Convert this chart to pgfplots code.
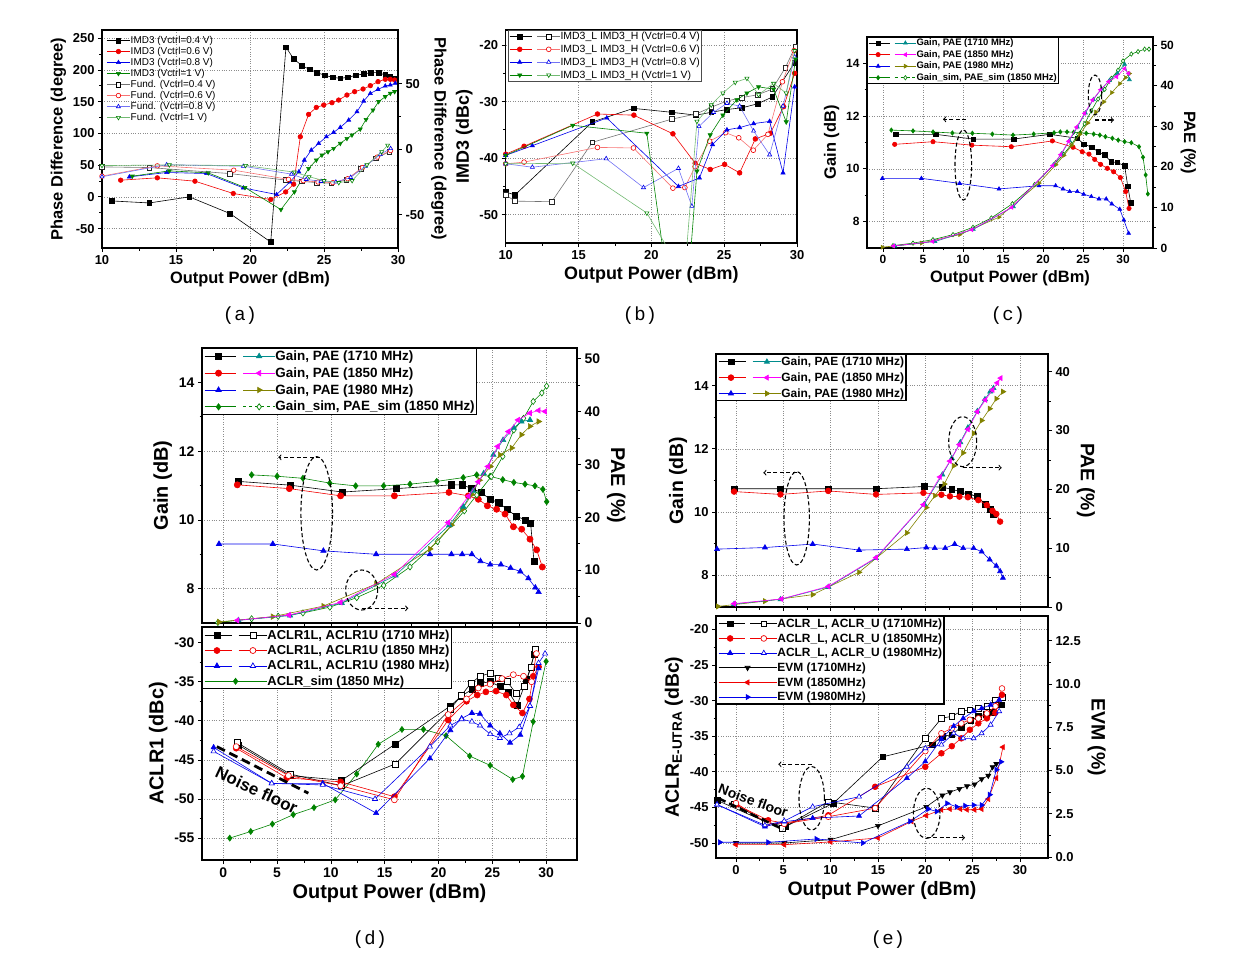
\documentclass[border=0pt]{standalone}
\usepackage{fontspec}
\setmainfont{Liberation Sans}
\newfontfamily\capfont{Liberation Mono}
\usepackage{pgfplots}
\pgfplotsset{compat=1.18}
\definecolor{cred}{RGB}{240,0,0}
\definecolor{cblue}{RGB}{0,0,235}
\definecolor{cgreen}{RGB}{0,130,0}
\definecolor{cteal}{RGB}{0,140,140}
\definecolor{cmag}{RGB}{255,0,255}
\definecolor{colive}{RGB}{130,130,0}
\newcommand{\fs}[1]{\fontsize{#1}{#1}\selectfont}
\newcommand{\LegOne}[2]{\addlegendimage{legend image code/.code={%
  \draw[#2] (0bp,0bp)--(#1bp,0bp);
  \draw[#2,solid] plot coordinates {(0.5*#1bp,0bp)};}}}
\newcommand{\LegTwo}[3]{\addlegendimage{legend image code/.code={%
  \draw[#2] (0bp,0bp)--(0.45*#1bp,0bp);
  \draw[#3] (0.55*#1bp,0bp)--(#1bp,0bp);
  \draw[#2,solid] plot coordinates {(0.2*#1bp,0bp)};
  \draw[#3,solid] plot coordinates {(0.78*#1bp,0bp)};}}}
\pgfplotsset{
  base/.style={scale only axis, anchor=north west, clip mode=individual,
    axis line style={line width=1.1bp}, tick align=outside,
    every tick/.style={black,line width=0.8bp},
    major tick length=4bp, minor tick length=2.5bp,
    /pgf/number format/assume math mode=true,
    every axis plot/.append style={line width=0.6bp}},
  L/.style={base, tick pos=left, grid=major,
    major grid style={dotted, black!45, line width=0.7bp}},
  R/.style={base, axis x line=none, axis y line*=right,
    ylabel style={rotate=180}},
}
\begin{document}
\begin{tikzpicture}
\path[use as bounding box] (0bp,0bp) rectangle (1254bp,-960bp);
% ================= (a) =================
\begin{axis}[L, at={(102bp,-30bp)}, width=296bp, height=218bp,
 xmin=10,xmax=30,ymin=-80.6,ymax=263,
 xtick={10,15,20,25,30}, ytick={-50,0,50,100,150,200,250},
 minor x tick num=1, minor y tick num=1,
 ticklabel style={font=\fs{13}\bfseries},
 label style={font=\fs{16.5}\bfseries},
 xlabel={Output Power (dBm)}, ylabel={Phase Difference (degree)},
 every axis plot/.append style={mark size=2.3bp}]
\addplot[forget plot, black, mark=square*] coordinates {(10.65,-6.4)(13.2,-9.6)(15.9,0)(18.65,-26.3)(21.4,-71.2)(22.43,236)(22.95,217.4)(23.51,206.8)(24.03,201)(24.53,195.8)(25.05,191.6)(25.59,188.4)(26.1,186.8)(26.62,188.4)(27.16,191.6)(27.68,193.7)(28.18,195.8)(28.69,195.8)(29.14,192)(29.48,189.5)(29.7,186.8)};
\addplot[forget plot, cred, mark=*] coordinates {(11.26,26.3)(13.74,30)(16.28,24.7)(18.87,5.3)(21.4,-4.2)(22.41,7.8)(22.95,20)(23.4,94.7)(23.96,130)(24.48,141)(24.98,144.7)(25.54,148.4)(25.99,152.6)(26.55,160.5)(27.07,165.8)(27.64,170)(28.13,175.3)(28.65,181.6)(29.14,185.3)(29.48,185.3)(29.77,184.2)};
\addplot[forget plot, cblue, mark=triangle*] coordinates {(11.85,31.5)(14.37,38.4)(17.07,36.8)(19.55,14.1)(21.8,3.7)(22.7,23.5)(23.3,39.4)(23.67,57.9)(24.14,73.7)(24.64,84.2)(25.16,94.7)(25.65,101.6)(26.1,109.5)(26.67,121)(27.23,134.2)(27.68,151)(28.13,163)(28.65,169.5)(29.14,174.7)(29.48,176.3)(29.82,179)};
\addplot[forget plot, cgreen, mark=triangle*, mark options={rotate=180}] coordinates {(12.05,32.6)(14.55,41)(17.18,37.8)(19.66,14.7)(22.09,-20)(23.0,7.8)(23.96,44.7)(24.48,57.9)(24.86,65.8)(25.27,71)(25.65,76.3)(26.1,84.2)(26.55,92)(26.89,97.4)(27.45,106.8)(27.84,122)(28.31,136.8)(28.69,150)(29.14,157.9)(29.48,163.2)(29.77,165.8)};
\end{axis}
\begin{axis}[R, at={(102bp,-30bp)}, width=296bp, height=218bp,
 xmin=10,xmax=30,ymin=-75.3,ymax=90.8, ytick={-50,0,50}, minor y tick num=1,
 ticklabel style={font=\fs{13}\bfseries},
 label style={font=\fs{16.5}\bfseries},
 ylabel={Phase Difference (degree)},
 every axis plot/.append style={mark size=2.3bp},
 legend cell align=left,
 legend style={draw=none, fill=none, at={(0.015,0.975)}, anchor=north west, font=\fs{10}, row sep=1.3bp, inner sep=0bp, nodes={inner sep=0.5bp}}]
\addplot[forget plot, black!55, mark=square*, mark options={draw=black!85,fill=white}] coordinates {(10,-13.5)(13.2,-14)(18.65,-18.6)(22.4,-23.5)(23.5,-24.5)(24.5,-25.5)(25.5,-26)(26.5,-23.5)(27.5,-15)(28.5,-7)(29.4,-2)};
\addplot[forget plot, cred!55, mark=*, mark options={draw=cred,fill=white}] coordinates {(10,-20.5)(13.74,-12.7)(18.9,-16)(22.6,-23)(23.6,-24)(24.6,-25)(25.6,-25.5)(26.6,-22.5)(27.6,-14)(28.6,-6)(29.5,-1)};
\addplot[forget plot, cblue!55, mark=triangle*, mark options={draw=cblue,fill=white}] coordinates {(10,-21)(14.37,-11.8)(19.55,-13)(22.8,-19)(23.8,-23)(24.8,-24.5)(25.8,-25)(26.8,-21.5)(27.8,-13)(28.8,-4)(29.5,0.5)};
\addplot[forget plot, cgreen!55, mark=triangle*, mark options={rotate=180,draw=cgreen,fill=white}] coordinates {(10,-12.5)(14.55,-12)(19.7,-12.5)(23.0,-17.5)(24.0,-21)(25.0,-24)(26.0,-25.5)(26.9,-24)(27.9,-12)(28.9,-2)(29.3,3)};
\LegOne{23}{black,line width=0.6bp,mark=square*,mark size=2.3bp}\addlegendentry{IMD3 (Vctrl=0.4 V)}
\LegOne{23}{cred,line width=0.6bp,mark=*,mark size=2.3bp}\addlegendentry{IMD3 (Vctrl=0.6 V)}
\LegOne{23}{cblue,line width=0.6bp,mark=triangle*,mark size=2.3bp}\addlegendentry{IMD3 (Vctrl=0.8 V)}
\LegOne{23}{cgreen,line width=0.6bp,mark=triangle*,mark options={rotate=180},mark size=2.3bp}\addlegendentry{IMD3 (Vctrl=1 V)}
\LegOne{23}{black!55,line width=0.6bp,mark=square*,mark options={draw=black,fill=white},mark size=2.3bp}\addlegendentry{Fund. (Vctrl=0.4 V)}
\LegOne{23}{cred!55,line width=0.6bp,mark=*,mark options={draw=cred,fill=white},mark size=2.3bp}\addlegendentry{Fund. (Vctrl=0.6 V)}
\LegOne{23}{cblue!55,line width=0.6bp,mark=triangle*,mark options={draw=cblue,fill=white},mark size=2.3bp}\addlegendentry{Fund. (Vctrl=0.8 V)}
\LegOne{23}{cgreen!55,line width=0.6bp,mark=triangle*,mark options={rotate=180,draw=cgreen,fill=white},mark size=2.3bp}\addlegendentry{Fund. (Vctrl=1 V)}
\end{axis}
% ================= (b) =================
\begin{axis}[L, at={(505.7bp,-30bp)}, width=291.3bp, height=213bp,
 xmin=10,xmax=30,ymin=-55,ymax=-17.35,
 xtick={10,15,20,25,30}, ytick={-50,-40,-30,-20},
 minor x tick num=1, minor y tick num=1,
 ticklabel style={font=\fs{13}\bfseries},
 label style={font=\fs{18}\bfseries},
 xlabel={Output Power (dBm)}, ylabel={IMD3 (dBc)},
 every axis plot/.append style={mark size=2.4bp},
 legend cell align=left,
 legend style={draw=black!70, line width=0.8bp, fill=white, at={(0.008,1)}, anchor=north west, font=\fs{10.5}, row sep=2.8bp, inner sep=1bp, nodes={inner sep=0.5bp}}]
\addplot[forget plot, black, mark=square*] coordinates {(10,-46)(10.64,-46.5)(15.95,-33.6)(18.77,-31.2)(21.41,-31.9)(23.06,-32.4)(24.11,-31.9)(25.19,-31.4)(26.22,-31.1)(27.29,-30.4)(28.3,-29.2)(29.84,-23.1)};
\addplot[forget plot, black!55, mark=square*, mark options={draw=black!85,fill=white}] coordinates {(10,-46.5)(10.64,-47.6)(13.16,-47.7)(15.95,-37.2)(21.41,-33.1)(23.06,-32.2)(24.11,-31)(25.19,-29.9)(26.22,-29.3)(27.29,-28.8)(28.3,-27.8)(29.2,-24)(29.88,-20.3)};
\addplot[forget plot, cred, mark=*] coordinates {(10,-39.3)(11.26,-37.9)(16.3,-32.2)(18.8,-32.4)(21.48,-35.7)(23.01,-40.9)(24.04,-42)(25.03,-41.1)(26.06,-42.6)(27.14,-36.6)(28.17,-35.6)(29.08,-30.9)(29.84,-25)};
\addplot[forget plot, cred!55, mark=*, mark options={draw=cred,fill=white}] coordinates {(10,-41)(11.26,-40.7)(16.3,-38.1)(18.77,-38.2)(21.48,-45.3)(22.3,-45.2)(23.0,-41.5)(24.0,-37)(25.1,-35.5)(26.0,-36.4)(27.0,-38.6)(28.0,-35.8)(29.0,-26.5)(29.8,-21)};
\addplot[forget plot, cblue, mark=triangle*] coordinates {(10,-39.5)(11.83,-37.8)(16.94,-32.9)(21.86,-45)(23.3,-43.5)(24.2,-37.6)(25.19,-35)(26.06,-34.6)(27.02,-33.9)(28.12,-33.5)(29.04,-42.6)(29.84,-27.4)};
\addplot[forget plot, cblue!55, mark=triangle*, mark options={draw=cblue,fill=white}] coordinates {(10,-41)(11.83,-41.6)(16.9,-40.1)(19.46,-45.2)(21.86,-41.8)(22.78,-48.5)(23.27,-34.4)(24.27,-31.9)(25.19,-30.3)(26.06,-30.8)(27.02,-35.2)(28.12,-39.4)(29.04,-30.8)(29.84,-22.1)};
\addplot[forget plot, cgreen, mark=triangle*, mark options={rotate=180}] coordinates {(10,-39.5)(14.6,-34.2)(19.69,-35.6)(21.0,-60)(22.6,-60)(23.13,-42.3)(24.04,-35.9)(24.91,-32.4)(25.87,-29.7)(26.56,-28.5)(27.36,-27.4)(28.39,-27.8)(29.26,-33.6)(29.9,-22.5)};
\addplot[forget plot, cgreen!55, mark=triangle*, mark options={rotate=180,draw=cgreen,fill=white}] coordinates {(10,-41)(14.6,-40.9)(19.69,-49.7)(21.6,-58)(22.3,-60)(23.13,-33.5)(24.11,-30.6)(24.91,-28.5)(25.76,-26.6)(26.56,-25.9)(27.36,-28.8)(28.39,-26.8)(29.26,-28.5)(29.84,-21)};
\LegTwo{50}{black,line width=0.6bp,mark=square*,mark size=2.4bp}{black!55,line width=0.6bp,mark=square*,mark options={draw=black,fill=white},mark size=2.4bp}\addlegendentry{IMD3\_L IMD3\_H (Vctrl=0.4 V)}
\LegTwo{50}{cred,line width=0.6bp,mark=*,mark size=2.4bp}{cred!55,line width=0.6bp,mark=*,mark options={draw=cred,fill=white},mark size=2.4bp}\addlegendentry{IMD3\_L IMD3\_H (Vctrl=0.6 V)}
\LegTwo{50}{cblue,line width=0.6bp,mark=triangle*,mark size=2.4bp}{cblue!55,line width=0.6bp,mark=triangle*,mark options={draw=cblue,fill=white},mark size=2.4bp}\addlegendentry{IMD3\_L IMD3\_H (Vctrl=0.8 V)}
\LegTwo{50}{cgreen,line width=0.6bp,mark=triangle*,mark options={rotate=180},mark size=2.4bp}{cgreen!55,line width=0.6bp,mark=triangle*,mark options={rotate=180,draw=cgreen,fill=white},mark size=2.4bp}\addlegendentry{IMD3\_L IMD3\_H (Vctrl=1 V)}
\end{axis}
% ================= (c) =================
\begin{axis}[L, at={(867bp,-37bp)}, width=286bp, height=211bp,
 xmin=-2,xmax=33.75,ymin=7,ymax=15,
 xtick={0,5,...,30}, ytick={8,10,12,14},
 minor x tick num=1, minor y tick num=1,
 ticklabel style={font=\fs{12}\bfseries},
 label style={font=\fs{16.5}\bfseries},
 xlabel={Output Power (dBm)}, ylabel={Gain (dB)},
 every axis plot/.append style={mark size=2.2bp}]
\addplot[forget plot, black, mark=square*] coordinates {(1.58,11.31)(6.58,11.31)(11.25,11.13)(16.33,11.13)(20.83,11.31)(24.3,11.16)(25.08,10.94)(26.1,10.82)(26.9,10.65)(27.7,10.53)(28.5,10.27)(29.25,10.24)(30.2,10.12)(30.6,9.33)(30.96,8.72)};
\addplot[forget plot, cred, mark=*] coordinates {(1.46,10.93)(6.25,11.03)(11.1,10.9)(16.04,10.84)(21.17,11.06)(23.75,10.82)(24.9,10.65)(25.75,10.56)(26.46,10.36)(27.2,10.17)(28.04,10.02)(28.83,9.89)(29.67,9.67)(30.33,9.14)(30.75,8.5)};
\addplot[forget plot, cblue, mark=triangle*] coordinates {(-0.08,9.64)(4.8,9.64)(9.58,9.45)(14.5,9.24)(19.5,9.36)(21.58,9.36)(22.5,9.24)(23.33,9.14)(24.29,9.14)(25.08,9.04)(26.04,8.95)(27.0,8.86)(27.9,8.86)(28.6,8.67)(29.6,8.47)(30.1,8.06)(30.7,7.56)};
\addplot[forget plot, cgreen, mark=diamond*] coordinates {(1.04,11.47)(3.75,11.44)(6.25,11.4)(8.67,11.36)(11.17,11.35)(13.67,11.32)(16.25,11.28)(18.83,11.32)(21.38,11.37)(22.17,11.4)(23.0,11.4)(23.83,11.39)(24.67,11.37)(25.4,11.35)(26.33,11.32)(27.1,11.28)(27.8,11.22)(28.67,11.16)(29.4,11.09)(30.2,11.03)(31.04,10.99)(32.0,10.84)(32.5,10.44)(32.83,9.77)(33.1,9.05)};
\end{axis}
\begin{axis}[R, at={(867bp,-37bp)}, width=286bp, height=211bp,
 xmin=-2,xmax=33.75,ymin=0,ymax=52, ytick={0,10,...,50}, minor y tick num=1,
 ticklabel style={font=\fs{12}\bfseries},
 label style={font=\fs{16.5}\bfseries},
 ylabel={PAE (\%)},
 every axis plot/.append style={mark size=2.2bp},
 legend cell align=left,
 legend style={draw=black, line width=0.8bp, fill=white, at={(0,1)}, anchor=north west, font=\fs{9.5}\bfseries, row sep=2.2bp, inner sep=1bp, nodes={inner sep=0.5bp}}]
\addplot[forget plot, cgreen, mark=diamond*, mark options={fill=white}] coordinates {(1.25,0.58)(3.75,1.2)(6.25,2.06)(8.75,3.3)(11.25,5.1)(13.54,7.4)(16.17,10.9)(18.96,15.65)(21.58,21)(22.58,23.1)(23.54,25.5)(24.4,28)(25.2,30.6)(26.04,33.8)(26.88,36.7)(27.71,39.1)(28.54,41.8)(29.38,43.8)(30.0,46.1)(31.04,47.8)(31.88,48.4)(32.7,49)(33.25,49)};
\addplot[forget plot, colive, mark=triangle*, mark options={rotate=-90}] coordinates {(-0.1,0.2)(4.8,1.2)(9.6,3.3)(14.5,7.6)(19.5,16)(21.6,20.5)(22.6,22.8)(23.6,25.3)(24.6,28)(25.6,30.8)(26.6,33.5)(27.6,36)(28.6,38.3)(29.6,40.5)(30.3,42)(30.8,43)};
\addplot[forget plot, cteal, mark=triangle*] coordinates {(1.5,0.5)(6.5,1.6)(11.3,4.6)(16.3,10.2)(21.3,20.5)(22.3,23.2)(23.3,26.5)(24.3,29.8)(25.3,33.3)(26.3,36.6)(27.3,39.2)(28.3,41.3)(29.3,43)(30.2,45.3)(30.8,41.5)};
\addplot[forget plot, cmag, mark=triangle*, mark options={rotate=90}] coordinates {(1.3,0.5)(6.2,1.6)(11.1,4.5)(16.1,10)(21.2,20.3)(22.2,23)(23.2,26.3)(24.2,29.8)(25.2,33.2)(26.2,36.5)(27.2,39)(28.2,41)(29.2,42.2)(30.2,44.2)(30.7,43)};
\LegTwo{47}{black,line width=0.6bp,mark=square*,mark size=2.2bp}{cteal,line width=0.6bp,mark=triangle*,mark size=2.2bp}\addlegendentry{Gain, PAE (1710 MHz)}
\LegTwo{47}{cred,line width=0.6bp,mark=*,mark size=2.2bp}{cmag,line width=0.6bp,mark=triangle*,mark options={rotate=90},mark size=2.2bp}\addlegendentry{Gain, PAE (1850 MHz)}
\LegTwo{47}{cblue,line width=0.6bp,mark=triangle*,mark size=2.2bp}{colive,line width=0.6bp,mark=triangle*,mark options={rotate=-90},mark size=2.2bp}\addlegendentry{Gain, PAE (1980 MHz)}
\LegTwo{47}{cgreen,line width=0.6bp,mark=diamond*,mark size=2.2bp}{cgreen,dashed,line width=0.6bp,mark=diamond*,mark options={fill=white},mark size=2.2bp}\addlegendentry{Gain\_sim, PAE\_sim (1850 MHz)}
\end{axis}
% ================= (d) top =================
\begin{axis}[L, at={(202bp,-348bp)}, width=375bp, height=275bp,
 xmin=-1.98,xmax=32.87,ymin=7,ymax=15,
 xtick={0,5,...,30}, xticklabels={}, ytick={8,10,12,14},
 minor x tick num=1, minor y tick num=1,
 ticklabel style={font=\fs{14}\bfseries},
 label style={font=\fs{20}\bfseries},
 ylabel={Gain (dB)},
 every axis plot/.append style={mark size=3.1bp}]
\addplot[forget plot, black, mark=square*] coordinates {(1.4,11.12)(6.25,11.01)(11.06,10.81)(16.1,10.91)(21.2,11.02)(22.2,11.02)(23.1,10.91)(23.95,10.8)(24.8,10.6)(25.6,10.5)(26.4,10.3)(27.26,10.1)(28.1,10.0)(28.56,9.9)(28.87,8.8)};
\addplot[forget plot, cred, mark=*] coordinates {(1.3,11.02)(6.14,10.91)(10.9,10.7)(15.9,10.7)(20.97,10.8)(22.77,10.7)(23.7,10.6)(24.54,10.41)(25.4,10.31)(26.18,10.17)(26.96,9.8)(27.73,9.73)(28.5,9.44)(29.12,9.13)(29.65,8.63)};
\addplot[forget plot, cblue, mark=triangle*] coordinates {(-0.4,9.3)(4.6,9.3)(9.3,9.1)(14.2,9.0)(19.2,9.0)(21.2,9.0)(22.2,9.0)(23.1,9.0)(23.9,8.8)(24.8,8.7)(25.8,8.7)(26.7,8.6)(27.6,8.5)(28.35,8.3)(29.0,8.03)(29.3,7.9)};
\addplot[forget plot, cgreen, mark=diamond*] coordinates {(2.63,11.31)(5.0,11.27)(7.4,11.21)(9.9,11.07)(12.3,10.99)(14.9,10.99)(17.35,11.04)(19.83,11.12)(22.3,11.23)(23.55,11.31)(24.8,11.27)(25.97,11.17)(27.0,11.09)(28.04,11.04)(28.96,10.99)(29.7,10.89)(30.05,10.53)};
\draw[line width=2.8bp, dash pattern=on 9bp off 5bp] (axis cs:-0.6,-43.3) -- (axis cs:7.9,-49.25);
\end{axis}
\begin{axis}[R, at={(202bp,-348bp)}, width=375bp, height=275bp,
 xmin=-1.98,xmax=32.87,ymin=0,ymax=52, ytick={0,10,...,50}, minor y tick num=1,
 ticklabel style={font=\fs{14}\bfseries},
 label style={font=\fs{20}\bfseries},
 ylabel={PAE (\%)},
 every axis plot/.append style={mark size=3.1bp},
 legend cell align=left,
 legend style={draw=black, line width=1.4bp, fill=white, at={(0,1)}, anchor=north west, font=\fs{13.5}\bfseries, row sep=4.6bp, inner sep=1.5bp, nodes={inner sep=0.5bp}}]
\addplot[forget plot, cgreen, mark=diamond*, mark options={fill=white}] coordinates {(-0.5,0.1)(2.63,0.8)(5.1,1.26)(7.4,1.9)(9.9,3.0)(12.4,4.8)(14.9,7.1)(17.35,10.6)(19.9,15.4)(22.4,21.2)(23.55,24.2)(24.9,27.7)(25.97,31.5)(27.0,36.5)(27.9,38.7)(28.8,41.9)(29.6,43.5)(30.05,44.8)};
\addplot[forget plot, colive, mark=triangle*, mark options={rotate=-90}] coordinates {(-0.4,0.2)(4.6,1.2)(9.3,3.2)(14.2,7.4)(19.2,14)(21.2,18.5)(22.2,21.5)(23.1,24.3)(23.8,27)(24.8,29.6)(25.7,31.8)(26.8,33.1)(27.7,35.6)(28.5,37.2)(29.3,38.1)};
\addplot[forget plot, cteal, mark=triangle*] coordinates {(1.4,0.5)(6.2,1.4)(11.0,3.8)(16.0,9.0)(21.0,18.5)(22.3,22)(23.2,25)(24.2,28.3)(25.1,31.8)(26.0,34.6)(27.0,36.9)(27.7,38.1)(28.5,38.4)};
\addplot[forget plot, cmag, mark=triangle*, mark options={rotate=90}] coordinates {(1.3,0.5)(6.1,1.5)(10.9,3.9)(15.9,9.2)(20.9,19)(22.8,24)(23.7,26.7)(24.6,29.6)(25.5,33.4)(26.5,36.2)(27.4,38.4)(28.5,39.7)(29.3,40.2)(29.9,40)};
\LegTwo{70}{black,line width=0.7bp,mark=square*,mark size=3.1bp}{cteal,line width=0.7bp,mark=triangle*,mark size=3.1bp}\addlegendentry{Gain, PAE (1710 MHz)}
\LegTwo{70}{cred,line width=0.7bp,mark=*,mark size=3.1bp}{cmag,line width=0.7bp,mark=triangle*,mark options={rotate=90},mark size=3.1bp}\addlegendentry{Gain, PAE (1850 MHz)}
\LegTwo{70}{cblue,line width=0.7bp,mark=triangle*,mark size=3.1bp}{colive,line width=0.7bp,mark=triangle*,mark options={rotate=-90},mark size=3.1bp}\addlegendentry{Gain, PAE (1980 MHz)}
\LegTwo{70}{cgreen,line width=0.7bp,mark=diamond*,mark size=3.1bp}{cgreen,dashed,line width=0.7bp,mark=diamond*,mark options={fill=white},mark size=3.1bp}\addlegendentry{Gain\_sim, PAE\_sim (1850 MHz)}
\end{axis}
% ================= (d) bottom =================
\begin{axis}[L, at={(202bp,-627bp)}, width=375bp, height=233bp,
 xmin=-1.98,xmax=32.87,ymin=-57.8,ymax=-28,
 xtick={0,5,...,30}, ytick={-55,-50,...,-30},
 minor x tick num=1, minor y tick num=1,
 ticklabel style={font=\fs{14}\bfseries},
 label style={font=\fs{20}\bfseries},
 xlabel={Output Power (dBm)}, ylabel={ACLR1 (dBc)},
 every axis plot/.append style={mark size=3bp},
 legend cell align=left,
 legend style={draw=black, line width=1.4bp, fill=white, at={(0,1)}, anchor=north west, font=\fs{13}\bfseries, row sep=3.5bp, inner sep=1.5bp, nodes={inner sep=0.5bp}}]
\addplot[forget plot, cgreen, mark=diamond*] coordinates {(0.6,-55)(2.55,-54.15)(4.56,-53.2)(6.5,-52.0)(8.43,-51.1)(10.4,-50.1)(12.4,-46.8)(14.4,-43.0)(16.6,-41.1)(18.6,-41.1)(20.7,-41.9)(22.9,-44.5)(24.8,-45.7)(26.9,-47.5)(27.8,-47.1)(28.8,-40.1)(30.0,-32.4)};
\addplot[forget plot, black, mark=square*] coordinates {(1.4,-43.1)(6.2,-47.0)(11.0,-47.6)(16.0,-42.95)(21.1,-38.1)(22.15,-36.8)(23.1,-36.0)(23.85,-35.2)(24.8,-35.0)(25.7,-35.6)(26.5,-36.3)(27.3,-38.0)(28.2,-34.7)(28.9,-31.5)};
\addplot[forget plot, black, mark=square*, mark options={fill=white}] coordinates {(1.3,-42.8)(6.2,-46.8)(11.0,-48.3)(16.0,-45.5)(21.1,-38.5)(22.15,-36.7)(23.0,-35.2)(23.85,-34.3)(24.8,-33.9)(25.6,-34.6)(26.4,-35.0)(27.2,-36.5)(28.0,-35.6)(28.6,-33.1)(28.97,-30.9)};
\addplot[forget plot, cred, mark=*] coordinates {(1.2,-43.5)(5.9,-47.3)(10.9,-47.8)(15.9,-49.7)(20.9,-39.9)(22.6,-37.5)(23.6,-36.7)(24.4,-36.3)(25.35,-36.2)(26.3,-36.7)(26.95,-37.97)(27.8,-39.0)(28.45,-37.2)(28.8,-34.3)(29.3,-33.1)};
\addplot[forget plot, cred, mark=*, mark options={fill=white}] coordinates {(1.2,-43.3)(6.05,-47)(10.9,-48.3)(15.9,-50.1)(20.9,-39.2)(22.6,-37.2)(23.7,-35.8)(24.8,-35.3)(25.9,-34.6)(26.95,-34.1)(27.9,-34.3)(28.65,-35)(29.1,-31.4)};
\addplot[forget plot, cblue, mark=triangle*] coordinates {(-0.9,-43.4)(4.5,-48.0)(9.24,-48.0)(14.2,-51.8)(19.2,-44.8)(21.1,-41.2)(22.15,-39.7)(23.1,-39.0)(23.85,-39.1)(24.8,-40.6)(25.7,-41.6)(26.65,-42.8)(27.6,-41.8)(28.5,-38.1)(29.3,-33.3)};
\addplot[forget plot, cblue, mark=triangle*, mark options={fill=white}] coordinates {(-0.9,-43.9)(4.5,-48.0)(9.24,-48.2)(14.1,-50.0)(19.2,-43.3)(21.1,-40.6)(22.15,-39.8)(23.1,-40.1)(23.85,-40.6)(24.8,-41.7)(25.7,-42.2)(26.6,-41.6)(27.5,-40.8)(28.5,-38.1)(29.3,-32.6)(29.9,-31.4)};
\draw[line width=2.8bp, dash pattern=on 9bp off 5bp] (axis cs:-0.6,-43.3) -- (axis cs:7.9,-49.25);
\LegTwo{62}{black,line width=0.7bp,mark=square*,mark size=3bp}{black,line width=0.7bp,mark=square*,mark options={fill=white},mark size=3bp}\addlegendentry{ACLR1L, ACLR1U (1710 MHz)}
\LegTwo{62}{cred,line width=0.7bp,mark=*,mark size=3bp}{cred,line width=0.7bp,mark=*,mark options={fill=white},mark size=3bp}\addlegendentry{ACLR1L, ACLR1U (1850 MHz)}
\LegTwo{62}{cblue,line width=0.7bp,mark=triangle*,mark size=3bp}{cblue,line width=0.7bp,mark=triangle*,mark options={fill=white},mark size=3bp}\addlegendentry{ACLR1L, ACLR1U (1980 MHz)}
\LegOne{62}{cgreen,line width=0.7bp,mark=diamond*,mark size=3bp}\addlegendentry{ACLR\_sim (1850 MHz)}
\end{axis}
% ================= (e) top =================
\begin{axis}[L, at={(716bp,-354bp)}, width=332bp, height=253bp,
 xmin=-2.11,xmax=32.96,ymin=7,ymax=15,
 xtick={0,5,...,30}, xticklabels={}, ytick={8,10,12,14},
 minor x tick num=1, minor y tick num=1,
 ticklabel style={font=\fs{13}\bfseries},
 label style={font=\fs{19.5}\bfseries},
 ylabel={Gain (dB)},
 every axis plot/.append style={mark size=2.9bp}]
\addplot[forget plot, black, mark=square*] coordinates {(-0.2,10.74)(4.7,10.74)(9.75,10.74)(14.8,10.74)(19.9,10.81)(21.8,10.79)(22.8,10.72)(23.7,10.65)(24.5,10.56)(25.5,10.5)(26.3,10.26)(26.85,10.1)(27.2,9.94)};
\addplot[forget plot, cred, mark=*] coordinates {(-0.2,10.65)(4.7,10.56)(9.75,10.67)(14.8,10.56)(19.8,10.61)(21.7,10.55)(22.6,10.5)(23.6,10.49)(24.5,10.47)(25.6,10.38)(26.5,10.22)(27.1,10.04)(27.5,9.94)(27.9,9.7)};
\addplot[forget plot, cblue, mark=triangle*] coordinates {(-2.0,8.83)(3.06,8.88)(8.1,8.99)(13.0,8.8)(18.05,8.83)(20.1,8.88)(21.0,8.86)(22.1,8.86)(23.1,8.99)(24.0,8.86)(25.1,8.86)(25.95,8.75)(26.8,8.5)(27.5,8.3)(27.9,8.13)(28.2,7.92)};
\end{axis}
\begin{axis}[R, at={(716bp,-354bp)}, width=332bp, height=253bp,
 xmin=-2.11,xmax=32.96,ymin=0,ymax=43, ytick={0,10,...,40}, minor y tick num=1,
 ticklabel style={font=\fs{13}\bfseries},
 label style={font=\fs{19.5}\bfseries},
 ylabel={PAE (\%)},
 every axis plot/.append style={mark size=2.9bp},
 legend cell align=left,
 legend style={draw=black, line width=1.4bp, fill=white, at={(0,1)}, anchor=north west, font=\fs{12}\bfseries, row sep=4.7bp, inner sep=1.5bp, nodes={inner sep=0.5bp}}]
\addplot[forget plot, colive, mark=triangle*, mark options={rotate=-90}] coordinates {(-1.9,0.1)(3.06,1.0)(8.1,2.1)(13.0,5.9)(18.05,12.6)(20.1,16.9)(21.0,18.9)(22.0,20.9)(23.0,24)(24.0,26.2)(25.1,29.5)(25.95,31.7)(26.8,33.7)(27.5,35.4)(28.2,36.6)};
\addplot[forget plot, cteal, mark=triangle*] coordinates {(-0.2,0.5)(4.7,1.3)(9.75,3.4)(14.8,8.3)(19.9,17.5)(21.8,22.5)(22.8,25.3)(23.7,28)(24.5,30.5)(25.5,33.3)(26.3,35.3)(26.85,36.6)(27.2,37.2)};
\addplot[forget plot, cmag, mark=triangle*, mark options={rotate=90}] coordinates {(-0.2,0.57)(4.8,1.37)(9.75,3.5)(14.8,8.4)(19.8,17.4)(21.55,22.1)(22.6,24.8)(23.6,27.6)(24.5,30.2)(25.5,33.2)(26.35,35.2)(27.1,36.9)(27.6,38.1)(27.96,38.9)};
\LegTwo{62}{black,line width=0.7bp,mark=square*,mark size=2.9bp}{cteal,line width=0.7bp,mark=triangle*,mark size=2.9bp}\addlegendentry{Gain, PAE (1710 MHz)}
\LegTwo{62}{cred,line width=0.7bp,mark=*,mark size=2.9bp}{cmag,line width=0.7bp,mark=triangle*,mark options={rotate=90},mark size=2.9bp}\addlegendentry{Gain, PAE (1850 MHz)}
\LegTwo{62}{cblue,line width=0.7bp,mark=triangle*,mark size=2.9bp}{colive,line width=0.7bp,mark=triangle*,mark options={rotate=-90},mark size=2.9bp}\addlegendentry{Gain, PAE (1980 MHz)}
\end{axis}
% ================= (e) bottom =================
\begin{axis}[L, at={(716bp,-616bp)}, width=332bp, height=242bp,
 xmin=-2.11,xmax=32.96,ymin=-52.1,ymax=-18.13,
 xtick={0,5,...,30}, ytick={-50,-45,...,-20},
 minor x tick num=1, minor y tick num=1,
 ticklabel style={font=\fs{13}\bfseries},
 label style={font=\fs{19.5}\bfseries},
 xlabel={Output Power (dBm)}, ylabel={ACLR\textsubscript{E-UTRA} (dBc)},
 every axis plot/.append style={mark size=2.9bp}]
\addplot[forget plot, black, mark=square*] coordinates {(-2,-44.0)(3.1,-47)(5.2,-47.7)(10.3,-44.4)(15.5,-37.9)(20.7,-36.2)(21.8,-35.0)(22.8,-34.8)(23.8,-33.7)(24.8,-32.8)(25.6,-32.2)(26.4,-31.9)(27.1,-31.6)(28.0,-30.6)};
\addplot[forget plot, black, mark=square*, mark options={fill=white}] coordinates {(-0.2,-44.5)(3.06,-47)(4.9,-47.9)(9.75,-44.2)(14.75,-45.1)(19.97,-35.3)(21.7,-32.5)(22.8,-32.2)(23.8,-31.5)(24.7,-31.3)(25.6,-31.1)(26.5,-30.8)(27.4,-29.9)(28.1,-29.5)};
\addplot[forget plot, cred, mark=*] coordinates {(0,-44.6)(3.4,-46.8)(5.1,-47.2)(9.75,-46.1)(14.7,-42.1)(20,-39.3)(21.7,-37.4)(22.8,-36.4)(23.8,-35.3)(24.7,-34.1)(25.6,-33.2)(26.5,-32.5)(27.4,-31.7)(28.1,-29.2)};
\addplot[forget plot, cred, mark=*, mark options={fill=white}] coordinates {(0,-44.4)(3.3,-47.2)(5.1,-47.3)(9.75,-46.3)(14.7,-45.1)(20.0,-37.1)(21.7,-34.6)(22.8,-33.9)(23.8,-33.2)(24.7,-32.7)(25.6,-32.5)(26.5,-31.8)(27.4,-30.8)(28.1,-28.3)};
\addplot[forget plot, cblue, mark=triangle*] coordinates {(-2,-44.6)(3.06,-47.7)(5.1,-47.0)(8.1,-46.5)(13.0,-46.2)(18.05,-40.9)(20,-38.55)(21.7,-35.4)(23,-33.6)(24.0,-32.5)(25.1,-31.5)(25.95,-31.1)(26.9,-30.6)(27.8,-29.9)};
\addplot[forget plot, cblue, mark=triangle*, mark options={fill=white}] coordinates {(-2,-44.6)(3.06,-47.5)(5.1,-46.9)(8.1,-44.9)(13.0,-43.5)(18.05,-39.3)(20,-36.7)(21.7,-36.2)(23,-34.6)(24.0,-35.3)(25.1,-35.3)(25.95,-34.6)(26.9,-33.4)(27.8,-31.5)};
\draw[line width=2.5bp, dash pattern=on 8bp off 4bp] (axis cs:-1.87,-43.7) -- (axis cs:5.0,-48.1);
\end{axis}
\begin{axis}[R, at={(716bp,-616bp)}, width=332bp, height=242bp,
 xmin=-2.11,xmax=32.96,ymin=-0.06,ymax=13.93, ytick={0,2.5,...,12.5}, minor y tick num=1,
 yticklabel style={/pgf/number format/fixed, /pgf/number format/fixed zerofill, /pgf/number format/precision=1},
 ticklabel style={font=\fs{13}\bfseries},
 label style={font=\fs{19.5}\bfseries},
 ylabel={EVM (\%)},
 every axis plot/.append style={mark size=2.9bp},
 legend cell align=left,
 legend style={draw=black, line width=1.4bp, fill=white, at={(0,1)}, anchor=north west, font=\fs{12}\bfseries, row sep=3.5bp, inner sep=1.5bp, nodes={inner sep=0.5bp}}]
\addplot[forget plot, black, mark=triangle*, mark options={rotate=180}] coordinates {(0,0.81)(5.1,0.81)(10,1.0)(15.0,1.8)(20.1,2.9)(21.8,3.56)(22.6,3.75)(23.6,3.94)(24.4,4.1)(25.2,4.2)(25.95,4.5)(26.65,4.7)(27.1,5.2)(27.5,5.38)};
\addplot[forget plot, cred, mark=triangle*, mark options={rotate=90}] coordinates {(0,0.71)(5.1,0.71)(10,0.87)(15.0,1.1)(18.55,2.06)(20.1,2.4)(21.7,2.73)(22.6,2.77)(23.7,2.77)(24.4,2.73)(25.2,2.73)(25.95,2.77)(26.65,3.35)(27.5,4.56)(28.2,6.35)};
\addplot[forget plot, cblue, mark=triangle*, mark options={rotate=-90}] coordinates {(-1.7,0.85)(3.4,0.85)(8.5,1.04)(13.4,0.81)(18.4,2.06)(20.3,2.77)(21.2,2.63)(22.3,3.1)(23.3,2.9)(24.2,2.96)(25.1,3.0)(25.95,3.0)(26.8,3.6)(27.5,5.04)(28.0,5.5)};
\LegTwo{58}{black,line width=0.7bp,mark=square*,mark size=2.9bp}{black,line width=0.7bp,mark=square*,mark options={fill=white},mark size=2.9bp}\addlegendentry{ACLR\_L, ACLR\_U (1710MHz)}
\LegTwo{58}{cred,line width=0.7bp,mark=*,mark size=2.9bp}{cred,line width=0.7bp,mark=*,mark options={fill=white},mark size=2.9bp}\addlegendentry{ACLR\_L, ACLR\_U (1850MHz)}
\LegTwo{58}{cblue,line width=0.7bp,mark=triangle*,mark size=2.9bp}{cblue,line width=0.7bp,mark=triangle*,mark options={fill=white},mark size=2.9bp}\addlegendentry{ACLR\_L, ACLR\_U (1980MHz)}
\LegOne{58}{black,line width=0.7bp,mark=triangle*,mark options={rotate=180},mark size=2.9bp}\addlegendentry{EVM (1710MHz)}
\LegOne{58}{cred,line width=0.7bp,mark=triangle*,mark options={rotate=90},mark size=2.9bp}\addlegendentry{EVM (1850MHz)}
\LegOne{58}{cblue,line width=0.7bp,mark=triangle*,mark options={rotate=-90},mark size=2.9bp}\addlegendentry{EVM (1980MHz)}
\end{axis}
% ================= annotations =================
\begin{scope}[x=1bp,y=-1bp]
\tikzset{ell/.style={line width=1.1bp, dash pattern=on 4bp off 2.5bp}, arr/.style={line width=1.1bp, dash pattern=on 4bp off 2.5bp, ->}}
% (c)
\draw[ell] (963.3,165) ellipse [x radius=8.3bp, y radius=35bp];
\draw[arr] (966,119.3) -- (943,119.3);
\draw[ell] (1095,95) ellipse [x radius=6.7bp, y radius=20bp];
\draw[arr] (1095,120) -- (1114,120);
% (d)
\draw[ell] (316.7,513.3) ellipse [x radius=15.8bp, y radius=56.7bp];
\draw[arr] (320,457.3) -- (278.3,457.3);
\draw[ell] (361.7,590) ellipse [x radius=16bp, y radius=20bp];
\draw[arr] (361.7,608.3) -- (408.3,608.3);
\node[font=\fs{17}\bfseries, rotate=-25] at (256.7,790) {Noise floor};
% (e)
\draw[ell] (796.7,518.3) ellipse [x radius=12.7bp, y radius=46.7bp];
\draw[arr] (796.7,472.7) -- (763.3,472.7);
\draw[ell] (962.7,441.7) ellipse [x radius=14bp, y radius=25bp];
\draw[arr] (962.7,467.7) -- (1001.7,467.7);
\draw[ell] (811.7,798.3) ellipse [x radius=12.7bp, y radius=31.7bp];
\draw[arr] (811.7,764.3) -- (778.3,764.3);
\draw[ell] (926.7,813.3) ellipse [x radius=13.3bp, y radius=25bp];
\draw[arr] (926.7,837.7) -- (965,837.7);
\node[font=\fs{14}\bfseries, rotate=-20] at (753.3,800.7) {Noise floor};
% captions
\node[font=\capfont\fs{19}] at (240,316) {(a)};
\node[font=\capfont\fs{19}] at (640,316) {(b)};
\node[font=\capfont\fs{19}] at (1008,316) {(c)};
\node[font=\capfont\fs{19}] at (370,940) {(d)};
\node[font=\capfont\fs{19}] at (888,940) {(e)};
\end{scope}
\end{tikzpicture}
\end{document}
